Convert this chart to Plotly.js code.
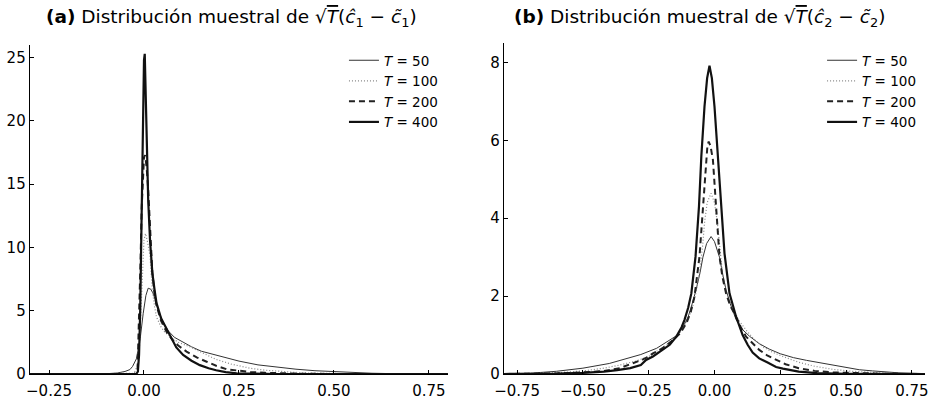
<!DOCTYPE html>
<html>
<head>
<meta charset="utf-8">
<script src="https://cdn.plot.ly/plotly-3.0.1.min.js"></script>
<style>html,body{margin:0;padding:0;background:#fff;}#chart{width:937px;height:401px;}</style>
</head>
<body>
<div id="chart"></div>
<script>
// ---------- Data: panel (a) sqrt(T)(c1_hat - c1_tilde) ----------
const a50x  = [-0.3,-0.15,-0.1,-0.07,-0.05,-0.037,-0.03,-0.02,-0.01,-0.002,0.005,0.011,0.018,0.025,0.032,0.038,0.05,0.064,0.08,0.1,0.125,0.151,0.175,0.2,0.25,0.3,0.35,0.4,0.45,0.5,0.55,0.6,0.65,0.7,0.8];
const a50y  = [0,0,0.02,0.08,0.2,0.35,0.6,1.2,2.8,4.8,6.2,6.78,6.7,6.3,5.6,5.0,4.1,3.4,2.9,2.55,2.15,1.8,1.6,1.4,1.02,0.72,0.52,0.38,0.26,0.18,0.11,0.06,0.03,0.015,0];
const a100x = [-0.3,-0.05,-0.03,-0.024,-0.018,-0.013,-0.008,-0.004,0.0,0.004,0.009,0.016,0.022,0.028,0.033,0.045,0.055,0.07,0.09,0.12,0.15,0.19,0.23,0.28,0.32,0.366,0.41,0.45,0.5,0.6,0.8];
const a100y = [0,0,0.05,0.2,0.6,1.4,5.3,8.5,10.6,11.1,10.5,9.3,6.6,5.3,4.5,3.7,3.3,2.95,2.5,2.16,1.7,1.15,0.78,0.45,0.3,0.18,0.1,0.06,0.03,0.01,0];
const a200x = [-0.3,-0.025,-0.017,-0.013,-0.009,-0.006,-0.003,0.0,0.003,0.007,0.011,0.016,0.022,0.028,0.033,0.045,0.06,0.075,0.09,0.112,0.14,0.165,0.19,0.218,0.25,0.28,0.32,0.366,0.42,0.5,0.8];
const a200y = [0,0,0.3,4,9,13.2,16,17.1,17.3,16.3,14.6,11.9,8,6.3,5.4,4.2,3.3,2.7,2.25,1.77,1.3,0.97,0.65,0.37,0.25,0.16,0.09,0.05,0.02,0.005,0];
const a400x = [-0.3,-0.02,-0.016,-0.013,-0.01,-0.006,-0.003,0.0,0.002,0.005,0.008,0.011,0.016,0.022,0.028,0.033,0.045,0.055,0.068,0.085,0.103,0.125,0.147,0.17,0.19,0.215,0.244,0.28,0.35,0.8];
const a400y = [0,0,0.2,1.5,5,14,21,24.8,25.3,22,17,13.8,10.5,8,6.6,5.6,4.4,3.8,3.0,2.1,1.5,1.05,0.7,0.45,0.3,0.15,0.05,0.02,0,0];

// ---------- Data: panel (b) sqrt(T)(c2_hat - c2_tilde) ----------
const b50x  = [-0.8,-0.7,-0.6,-0.5,-0.4,-0.33,-0.28,-0.22,-0.18,-0.145,-0.12,-0.1,-0.085,-0.07,-0.055,-0.044,-0.03,-0.013,0.0,0.019,0.03,0.044,0.06,0.082,0.105,0.133,0.17,0.208,0.25,0.3,0.35,0.4,0.45,0.5,0.55,0.6,0.65,0.7,0.8];
const b50y  = [0.005,0.02,0.07,0.15,0.27,0.4,0.5,0.66,0.82,0.98,1.2,1.47,1.8,2.16,2.6,3.0,3.35,3.53,3.4,3.0,2.6,2.16,1.8,1.4,1.15,0.97,0.78,0.64,0.52,0.42,0.35,0.29,0.22,0.16,0.11,0.08,0.05,0.03,0.01];
const b100x = [-0.8,-0.7,-0.6,-0.5,-0.42,-0.36,-0.3,-0.25,-0.21,-0.17,-0.133,-0.11,-0.088,-0.07,-0.057,-0.045,-0.038,-0.028,-0.013,0.0,0.011,0.02,0.03,0.045,0.068,0.09,0.12,0.15,0.183,0.22,0.26,0.32,0.38,0.45,0.52,0.6,0.7,0.8];
const b100y = [0.002,0.01,0.03,0.08,0.15,0.23,0.33,0.45,0.62,0.8,1.05,1.3,1.6,2.1,2.6,3.3,3.88,4.4,4.64,4.4,3.88,3.2,2.6,2.1,1.73,1.4,1.13,0.9,0.7,0.56,0.45,0.3,0.2,0.12,0.07,0.04,0.01,0.003];
const b200x = [-0.8,-0.7,-0.6,-0.5,-0.42,-0.36,-0.3,-0.27,-0.25,-0.234,-0.2,-0.158,-0.13,-0.107,-0.09,-0.076,-0.057,-0.044,-0.034,-0.027,-0.022,-0.015,-0.006,0.0,0.006,0.019,0.03,0.044,0.06,0.082,0.1,0.12,0.145,0.17,0.2,0.234,0.27,0.32,0.38,0.45,0.55,0.65,0.8];
const b200y = [0,0.005,0.015,0.04,0.08,0.15,0.3,0.38,0.45,0.53,0.65,0.87,1.05,1.3,1.6,1.99,3.02,4.3,5.33,5.85,5.97,5.85,5.5,5.0,4.3,3.02,2.5,2.07,1.75,1.47,1.2,0.96,0.78,0.62,0.48,0.36,0.25,0.15,0.08,0.04,0.015,0.005,0];
const b400x = [-0.8,-0.7,-0.6,-0.5,-0.42,-0.37,-0.32,-0.28,-0.26,-0.234,-0.2,-0.17,-0.145,-0.125,-0.114,-0.1,-0.088,-0.072,-0.059,-0.05,-0.038,-0.028,-0.019,-0.01,0.0,0.013,0.025,0.038,0.057,0.082,0.107,0.126,0.145,0.17,0.2,0.234,0.26,0.32,0.39,0.5,0.8];
const b400y = [0,0.003,0.01,0.03,0.06,0.1,0.15,0.23,0.36,0.45,0.6,0.75,0.96,1.2,1.39,1.7,2.07,3.02,4.3,5.59,6.87,7.6,7.92,7.6,6.87,5.59,4.3,3.1,2.07,1.47,1.0,0.75,0.55,0.4,0.3,0.18,0.14,0.06,0.02,0.005,0];

const seriesNames = ['<i>T</i> = 50', '<i>T</i> = 100', '<i>T</i> = 200', '<i>T</i> = 400'];
const xTicksA = [-0.25, 0, 0.25, 0.5, 0.75];
const xTicksB = [-0.75, -0.5, -0.25, 0, 0.25, 0.5, 0.75];
const yTicksA = [0, 5, 10, 15, 20, 25];
const yTicksB = [0, 2, 4, 6, 8];

const styles = [
  {color:'#333', width:1, dash:'solid'},
  {color:'#888', width:1.2, dash:'1px,2px'},
  {color:'#222', width:2, dash:'6px,4px'},
  {color:'#111', width:2.2, dash:'solid'}
];

const dataA = [[a50x,a50y],[a100x,a100y],[a200x,a200y],[a400x,a400y]];
const dataB = [[b50x,b50y],[b100x,b100y],[b200x,b200y],[b400x,b400y]];

const traces = [];
dataA.forEach((d,i)=>traces.push({x:d[0], y:d[1], type:'scatter', mode:'lines', name:seriesNames[i], line:styles[i], xaxis:'x', yaxis:'y', legend:'legend', hoverinfo:'skip'}));
dataB.forEach((d,i)=>traces.push({x:d[0], y:d[1], type:'scatter', mode:'lines', name:seriesNames[i], line:styles[i], xaxis:'x2', yaxis:'y2', legend:'legend2', hoverinfo:'skip'}));

const tickFont = {family:'DejaVu Sans, Liberation Sans, sans-serif', size:15, color:'#000'};
const axisCommon = {showgrid:false, zeroline:false, showline:true, linecolor:'#000', linewidth:1.3, ticks:'inside', ticklen:4, tickcolor:'#000', tickwidth:1, tickfont:tickFont, fixedrange:true};
const fmt = v => v.toFixed(2).replace('-', '\u2212');
const legFont = {family:'DejaVu Sans, sans-serif', size:13.5, color:'#000'};

const layout = {
  width:937, height:401,
  margin:{l:30, r:12, t:43, b:27},
  paper_bgcolor:'#fff', plot_bgcolor:'#fff',
  showlegend:true,
  xaxis: Object.assign({}, axisCommon, {domain:[0,0.467], range:[-0.3,0.8], tickvals:xTicksA, ticktext:xTicksA.map(fmt), anchor:'y', ticklabelstandoff:3}),
  yaxis: Object.assign({}, axisCommon, {domain:[0,0.994], range:[0,26], tickvals:yTicksA, ticktext:yTicksA.map(String), anchor:'x'}),
  xaxis2: Object.assign({}, axisCommon, {domain:[0.5296,1], range:[-0.8,0.8], tickvals:xTicksB, ticktext:xTicksB.map(fmt), anchor:'y2', ticklabelstandoff:3}),
  yaxis2: Object.assign({}, axisCommon, {domain:[0,1], range:[0,8.5], tickvals:yTicksB, ticktext:yTicksB.map(String), anchor:'x2'}),
  legend:{x:0.3508, y:0.994, xanchor:'left', yanchor:'top', bgcolor:'rgba(0,0,0,0)', font:legFont, tracegroupgap:0},
  legend2:{x:0.885, y:0.994, xanchor:'left', yanchor:'top', bgcolor:'rgba(0,0,0,0)', font:legFont, tracegroupgap:0},
  annotations:[
    {xref:'paper', yref:'paper', x:0.2246, y:1, yshift:25, xanchor:'center', yanchor:'middle', showarrow:false,
     font:{family:'DejaVu Sans, sans-serif', size:18.5, color:'#000'},
     text:'<b>(a)</b> Distribución muestral de √<span style="text-decoration:overline"><i>T</i></span>(<i>ĉ</i><sub>1</sub> − <i>c̃</i><sub>1</sub>)'},
    {xref:'paper', yref:'paper', x:0.7486, y:1, yshift:25, xanchor:'center', yanchor:'middle', showarrow:false,
     font:{family:'DejaVu Sans, sans-serif', size:18.5, color:'#000'},
     text:'<b>(b)</b> Distribución muestral de √<span style="text-decoration:overline"><i>T</i></span>(<i>ĉ</i><sub>2</sub> − <i>c̃</i><sub>2</sub>)'}
  ]
};

Plotly.newPlot('chart', traces, layout, {staticPlot:true, displayModeBar:false});
</script>
</body>
</html>
